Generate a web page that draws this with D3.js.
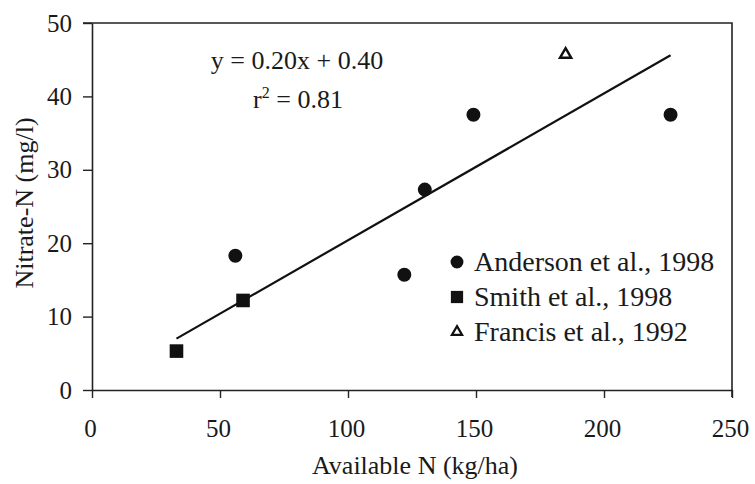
<!DOCTYPE html>
<html>
<head>
<meta charset="utf-8">
<script src="https://cdnjs.cloudflare.com/ajax/libs/d3/7.8.5/d3.min.js"></script>
<style>
  body { margin: 0; background: #fff; }
  text { font-family: "Liberation Serif", "Times New Roman", serif; fill: #1a1a1a; }
</style>
</head>
<body>
<div id="chart"></div>
<script>
// Data
const anderson = [[56, 18.3], [122, 15.7], [130, 27.3], [149, 37.5], [226, 37.5]];
const smith = [[33, 5.3], [59, 12.2]];
const francis = [[185, 45.7]];
const fitRange = [33, 226];
const slope = 0.20, intercept = 0.40;
const xTicks = [0, 50, 100, 150, 200, 250];
const yTicks = [0, 10, 20, 30, 40, 50];
const legendLabels = ['Anderson et al., 1998', 'Smith et al., 1998', 'Francis et al., 1992'];

const width = 755, height = 484;
const margin = { top: 23, right: 23, bottom: 94, left: 92 };

const svg = d3.select('#chart').append('svg')
  .attr('width', width)
  .attr('height', height);

const x = d3.scaleLinear().domain([0, 250]).range([margin.left, width - margin.right]);
const y = d3.scaleLinear().domain([0, 50]).range([height - margin.bottom, margin.top]);

// frame (top and right lines)
svg.append('path')
  .attr('d', `M${x(0) - 9},${y(50)}H${x(250)}V${y(0) + 7}`)
  .attr('fill', 'none').attr('stroke', '#222').attr('stroke-width', 1.6);

const xAxis = svg.append('g')
  .attr('transform', `translate(0,${y(0)})`)
  .call(d3.axisBottom(x).tickValues(xTicks).tickSizeInner(8).tickSizeOuter(0).tickPadding(21));
const yAxis = svg.append('g')
  .attr('transform', `translate(${x(0)},0)`)
  .call(d3.axisLeft(y).tickValues(yTicks).tickSizeInner(9).tickSizeOuter(0).tickPadding(11));

[xAxis, yAxis].forEach(g => {
  g.select('.domain').attr('stroke', '#222').attr('stroke-width', 1.6);
  g.selectAll('.tick line').attr('stroke', '#222').attr('stroke-width', 1.4);
  g.selectAll('.tick text').attr('font-size', 25).attr('fill', '#1a1a1a')
    .style('font-family', '"Liberation Serif", "Times New Roman", serif');
});
xAxis.selectAll('.tick text').attr('dx', -2);

// axis titles
svg.append('text')
  .attr('x', 415).attr('y', 474)
  .attr('text-anchor', 'middle').attr('font-size', 26)
  .text('Available N (kg/ha)');
svg.append('text')
  .attr('transform', 'translate(33,203) rotate(-90)')
  .attr('text-anchor', 'middle').attr('font-size', 26)
  .text('Nitrate-N (mg/l)');

// regression line
svg.append('line')
  .attr('x1', x(fitRange[0])).attr('y1', y(slope * fitRange[0] + intercept))
  .attr('x2', x(fitRange[1])).attr('y2', y(slope * fitRange[1] + intercept))
  .attr('stroke', '#111').attr('stroke-width', 2.2);

// equation
svg.append('text')
  .attr('x', 297).attr('y', 69)
  .attr('text-anchor', 'middle').attr('font-size', 26)
  .text('y = 0.20x + 0.40');
const r2 = svg.append('text')
  .attr('x', 298).attr('y', 108)
  .attr('text-anchor', 'middle').attr('font-size', 26);
r2.append('tspan').text('r');
r2.append('tspan').attr('dy', -10).attr('font-size', 16).text('2');
r2.append('tspan').attr('dy', 10).text(' = 0.81');

// points
const circleSym = d3.symbol().type(d3.symbolCircle).size(154);
const squareSym = d3.symbol().type(d3.symbolSquare).size(185);
const triSym = d3.symbol().type(d3.symbolTriangle).size(55);

svg.selectAll('.anderson').data(anderson).join('path')
  .attr('class', 'anderson')
  .attr('d', circleSym)
  .attr('transform', d => `translate(${x(d[0])},${y(d[1])})`)
  .attr('fill', '#111');

svg.selectAll('.smith').data(smith).join('path')
  .attr('class', 'smith')
  .attr('d', squareSym)
  .attr('transform', d => `translate(${x(d[0])},${y(d[1])})`)
  .attr('fill', '#111');

svg.selectAll('.francis').data(francis).join('path')
  .attr('class', 'francis')
  .attr('d', triSym)
  .attr('transform', d => `translate(${x(d[0])},${y(d[1])})`)
  .attr('fill', '#fff').attr('stroke', '#111').attr('stroke-width', 2.4);

// legend
const legend = svg.append('g').attr('transform', 'translate(457,262)');
const legendSyms = [
  { d: d3.symbol().type(d3.symbolCircle).size(130)(), fill: '#111', stroke: 'none' },
  { d: d3.symbol().type(d3.symbolSquare).size(150)(), fill: '#111', stroke: 'none' },
  { d: d3.symbol().type(d3.symbolTriangle).size(45)(), fill: '#fff', stroke: '#111' }
];
legendLabels.forEach((lab, i) => {
  const row = legend.append('g').attr('transform', `translate(0,${i * 35})`);
  row.append('path')
    .attr('d', legendSyms[i].d)
    .attr('fill', legendSyms[i].fill)
    .attr('stroke', legendSyms[i].stroke)
    .attr('stroke-width', 2.2);
  row.append('text')
    .attr('x', 17).attr('y', 9)
    .attr('font-size', 28)
    .text(lab);
});
</script>
</body>
</html>
